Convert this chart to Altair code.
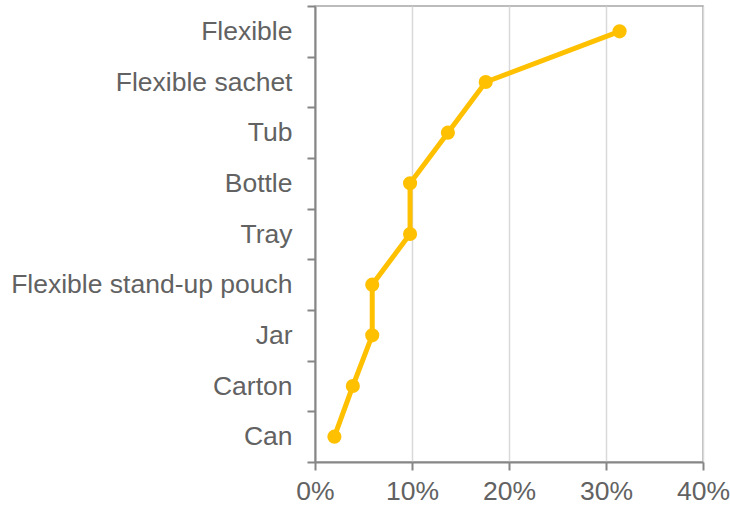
import altair as alt
import pandas as pd

categories = ["Flexible", "Flexible sachet", "Tub", "Bottle", "Tray",
              "Flexible stand-up pouch", "Jar", "Carton", "Can"]
values = [0.314, 0.176, 0.137, 0.098, 0.098, 0.059, 0.059, 0.039, 0.020]

df = pd.DataFrame({"category": categories, "value": values,
                   "idx": list(range(len(categories)))})

x = alt.X("value:Q",
          scale=alt.Scale(domain=[0, 0.4], nice=False),
          axis=alt.Axis(format=".0%", values=[0, 0.1, 0.2, 0.3, 0.4], title=None,
                        grid=True, gridColor="#D9D9D9", gridWidth=1.5,
                        domainColor="#868686", domainWidth=2,
                        tickColor="#868686", tickWidth=2, tickSize=8,
                        labelFont="Liberation Sans", labelFontSize=26.5,
                        labelColor="#626262", labelPadding=8, labelFlush=False))
y = alt.Y("category:N", sort=categories,
          scale=alt.Scale(type="band", paddingInner=0, paddingOuter=0),
          axis=alt.Axis(title=None, grid=False, tickBand="extent",
                        domainColor="#868686", domainWidth=2,
                        tickColor="#868686", tickWidth=2, tickSize=8,
                        labelFont="Liberation Sans", labelFontSize=26.5,
                        labelColor="#626262", labelPadding=15, labelLimit=0))

line = alt.Chart(df).mark_line(color="#FFC000", strokeWidth=5).encode(
    x=x, y=y, order=alt.Order("idx:Q"))
pts = alt.Chart(df).mark_circle(color="#FFC000", size=200, opacity=1).encode(x=x, y=y)

chart = (line + pts).properties(
    width=388, height=456,
    autosize=alt.AutoSizeParams(type="none"),
    padding={"left": 315, "top": 6, "right": 27, "bottom": 44},
).configure_view(stroke="#A6A6A6", strokeWidth=1.5)

chart.save("out.html", embed_options={"renderer": "svg", "actions": False})
